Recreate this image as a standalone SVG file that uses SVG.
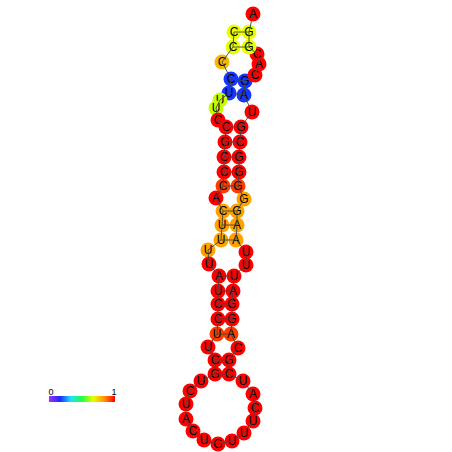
<svg xmlns="http://www.w3.org/2000/svg" width="452" height="452" viewBox="0 0 452 452">
<defs>
<style>
circle{stroke:none}
.r{fill:#ff0000}.or{fill:#ff3c00}.o{fill:#ffa200}.oy{fill:#f5b800}.y{fill:#e8ff00}.yg{fill:#c4ff00}.b{fill:#1438ff}
text{font-family:"Liberation Sans",Arial,sans-serif;font-size:12px;text-anchor:middle;fill:#000}
.bb{fill:none;stroke:#444;stroke-width:0.9}
.lg{font-size:9px}
</style>
<linearGradient id="cb" x1="0" y1="0" x2="1" y2="0">
<stop offset="0" stop-color="#a030ff"/>
<stop offset="0.17" stop-color="#1a2cff"/>
<stop offset="0.33" stop-color="#20e0ff"/>
<stop offset="0.5" stop-color="#20ff40"/>
<stop offset="0.67" stop-color="#e8ff00"/>
<stop offset="0.83" stop-color="#ff9a00"/>
<stop offset="1" stop-color="#ff0000"/>
</linearGradient>
</defs>
<rect width="452" height="452" fill="#fff"/>
<g id="nodes">
<g id="n1"><circle class="y" cx="234" cy="32" r="7.5"/><text x="234" y="36.3">C</text></g>
<g id="n2"><circle class="y" cx="233" cy="47" r="7.5"/><text x="233" y="51.3">C</text></g>
<g id="n3"><circle class="oy" cx="222" cy="62" r="7.5"/><text x="222" y="66.3">C</text></g>
<g id="n4"><circle class="b" cx="231" cy="79" r="7.5"/><text x="231" y="83.3">C</text></g>
<g id="n5"><circle class="b" cx="229" cy="93" r="7.5"/><text x="229" y="97.3">U</text></g>
<g id="n6"><circle class="yg" cx="220" cy="100" r="7.5"/><text x="220" y="104.3">U</text></g>
<g id="n7"><circle class="yg" cx="216" cy="108" r="7.5"/><text x="216" y="112.3">U</text></g>
<g id="n8"><circle class="r" cx="218" cy="120" r="7.5"/><text x="218" y="124.3">C</text></g>
<g id="n9"><circle class="r" cx="226" cy="127" r="7.5"/><text x="226" y="131.3">C</text></g>
<g id="n10"><circle class="r" cx="225" cy="142" r="7.5"/><text x="225" y="146.3">G</text></g>
<g id="n11"><circle class="r" cx="224" cy="157" r="7.5"/><text x="224" y="161.3">C</text></g>
<g id="n12"><circle class="r" cx="224" cy="172" r="7.5"/><text x="224" y="176.3">C</text></g>
<g id="n13"><circle class="or" cx="223" cy="186" r="7.5"/><text x="223" y="190.3">C</text></g>
<g id="n14"><circle class="r" cx="216" cy="198" r="7.5"/><text x="216" y="202.3">A</text></g>
<g id="n15"><circle class="o" cx="223" cy="211" r="7.5"/><text x="223" y="215.3">C</text></g>
<g id="n16"><circle class="o" cx="222" cy="225" r="7.5"/><text x="222" y="229.3">U</text></g>
<g id="n17"><circle class="o" cx="221" cy="240" r="7.5"/><text x="221" y="244.3">U</text></g>
<g id="n18"><circle class="o" cx="208" cy="250" r="7.5"/><text x="208" y="254.3">U</text></g>
<g id="n19"><circle class="r" cx="209" cy="264" r="7.5"/><text x="209" y="268.3">U</text></g>
<g id="n20"><circle class="r" cx="219" cy="276" r="7.5"/><text x="219" y="280.3">A</text></g>
<g id="n21"><circle class="r" cx="218" cy="291" r="7.5"/><text x="218" y="295.3">U</text></g>
<g id="n22"><circle class="r" cx="218" cy="304" r="7.5"/><text x="218" y="308.3">C</text></g>
<g id="n23"><circle class="r" cx="218" cy="319" r="7.5"/><text x="218" y="323.3">C</text></g>
<g id="n24"><circle class="or" cx="217" cy="334" r="7.5"/><text x="217" y="338.3">U</text></g>
<g id="n25"><circle class="r" cx="208" cy="347" r="7.5"/><text x="208" y="351.3">U</text></g>
<g id="n26"><circle class="r" cx="215" cy="360" r="7.5"/><text x="215" y="364.3">C</text></g>
<g id="n27"><circle class="r" cx="215" cy="374" r="7.5"/><text x="215" y="378.3">G</text></g>
<g id="n28"><circle class="r" cx="201" cy="381" r="7.5"/><text x="201" y="385.3">U</text></g>
<g id="n29"><circle class="r" cx="190" cy="391" r="7.5"/><text x="190" y="395.3">C</text></g>
<g id="n30"><circle class="r" cx="186" cy="404" r="7.5"/><text x="186" y="408.3">U</text></g>
<g id="n31"><circle class="r" cx="186" cy="419" r="7.5"/><text x="186" y="423.3">A</text></g>
<g id="n32"><circle class="r" cx="193" cy="431" r="7.5"/><text x="193" y="435.3">C</text></g>
<g id="n33"><circle class="r" cx="204" cy="440" r="7.5"/><text x="204" y="444.3">U</text></g>
<g id="n34"><circle class="r" cx="218" cy="444" r="7.5"/><text x="218" y="448.3">G</text></g>
<g id="n35"><circle class="r" cx="232" cy="441" r="7.5"/><text x="232" y="445.3">U</text></g>
<g id="n36"><circle class="r" cx="244" cy="433" r="7.5"/><text x="244" y="437.3">U</text></g>
<g id="n37"><circle class="r" cx="253" cy="421" r="7.5"/><text x="253" y="425.3">U</text></g>
<g id="n38"><circle class="r" cx="255" cy="408" r="7.5"/><text x="255" y="412.3">C</text></g>
<g id="n39"><circle class="r" cx="253" cy="394" r="7.5"/><text x="253" y="398.3">A</text></g>
<g id="n40"><circle class="r" cx="243" cy="381" r="7.5"/><text x="243" y="385.3">U</text></g>
<g id="n41"><circle class="r" cx="229" cy="374" r="7.5"/><text x="229" y="378.3">C</text></g>
<g id="n42"><circle class="r" cx="229" cy="360" r="7.5"/><text x="229" y="364.3">G</text></g>
<g id="n43"><circle class="r" cx="238" cy="348" r="7.5"/><text x="238" y="352.3">C</text></g>
<g id="n44"><circle class="or" cx="231" cy="334" r="7.5"/><text x="231" y="338.3">A</text></g>
<g id="n45"><circle class="r" cx="232" cy="319" r="7.5"/><text x="232" y="323.3">G</text></g>
<g id="n46"><circle class="r" cx="232" cy="304" r="7.5"/><text x="232" y="308.3">G</text></g>
<g id="n47"><circle class="r" cx="233" cy="291" r="7.5"/><text x="233" y="295.3">A</text></g>
<g id="n48"><circle class="r" cx="234" cy="276" r="7.5"/><text x="234" y="280.3">U</text></g>
<g id="n49"><circle class="r" cx="246" cy="265" r="7.5"/><text x="246" y="269.3">U</text></g>
<g id="n50"><circle class="r" cx="246" cy="252" r="7.5"/><text x="246" y="256.3">U</text></g>
<g id="n51"><circle class="o" cx="236" cy="240" r="7.5"/><text x="236" y="244.3">A</text></g>
<g id="n52"><circle class="o" cx="237" cy="225" r="7.5"/><text x="237" y="229.3">A</text></g>
<g id="n53"><circle class="o" cx="237" cy="211" r="7.5"/><text x="237" y="215.3">G</text></g>
<g id="n54"><circle class="o" cx="244" cy="199" r="7.5"/><text x="244" y="203.3">G</text></g>
<g id="n55"><circle class="or" cx="238" cy="186" r="7.5"/><text x="238" y="190.3">G</text></g>
<g id="n56"><circle class="r" cx="239" cy="172" r="7.5"/><text x="239" y="176.3">G</text></g>
<g id="n57"><circle class="r" cx="239" cy="157" r="7.5"/><text x="239" y="161.3">G</text></g>
<g id="n58"><circle class="r" cx="240" cy="142" r="7.5"/><text x="240" y="146.3">C</text></g>
<g id="n59"><circle class="r" cx="241" cy="127" r="7.5"/><text x="241" y="131.3">G</text></g>
<g id="n60"><circle class="r" cx="252" cy="112" r="7.5"/><text x="252" y="116.3">U</text></g>
<g id="n61"><circle class="b" cx="244" cy="95" r="7.5"/><text x="244" y="99.3">A</text></g>
<g id="n62"><circle class="b" cx="245" cy="81" r="7.5"/><text x="245" y="85.3">G</text></g>
<g id="n63"><circle class="r" cx="255" cy="75" r="7.5"/><text x="255" y="79.3">C</text></g>
<g id="n64"><circle class="r" cx="259" cy="64" r="7.5"/><text x="259" y="68.3">A</text></g>
<g id="n65"><circle class="r" cx="257" cy="54" r="7.5"/><text x="257" y="58.3">C</text></g>
<g id="n66"><circle class="y" cx="249" cy="47" r="7.5"/><text x="249" y="51.3">G</text></g>
<g id="n67"><circle class="y" cx="249" cy="32" r="7.5"/><text x="249" y="36.3">G</text></g>
<g id="n68"><circle class="r" cx="253" cy="14" r="7.5"/><text x="253" y="18.3">A</text></g>
</g>
<g id="connectors">
<polyline class="bb" points="234,32 233,47 222,62 231,79 229,93 220,100 216,108 218,120 226,127 225,142 224,157 224,172 223,186 216,198 223,211 222,225 221,240 208,250 209,264 219,276 218,291 218,304 218,319 217,334 208,347 215,360 215,374 201,381 190,391 186,404 186,419 193,431 204,440 218,444 232,441 244,433 253,421 255,408 253,394 243,381 229,374 229,360 238,348 231,334 232,319 232,304 233,291 234,276 246,265 246,252 236,240 237,225 237,211 244,199 238,186 239,172 239,157 240,142 241,127 252,112 244,95 245,81 255,75 259,64 257,54 249,47 249,32 253,14"/>
<path class="bb" d="M234,32H249M233,47H249M231,79L245,81M229,93L244,95M226,127L241,127M225,142L240,142M224,157L239,157M224,172L239,172M223,186L238,186M223,211L237,211M222,225L237,225M221,240L236,240M219,276L234,276M218,291L233,291M218,304L232,304M218,319L232,319M217,334L231,334M215,360L229,360M215,374L229,374"/>
</g>
<g id="legend">
<rect x="49" y="396" width="66" height="6" fill="url(#cb)"/>
<text class="lg" x="51" y="395">0</text>
<text class="lg" x="114" y="395">1</text>
</g>
</svg>
